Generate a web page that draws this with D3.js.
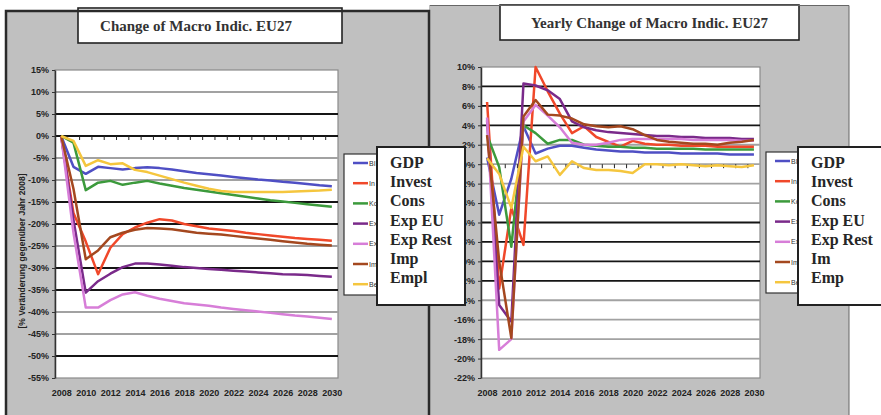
<!DOCTYPE html>
<html>
<head>
<meta charset="utf-8">
<script src="https://cdn.jsdelivr.net/npm/d3@7"></script>
<style>
  body { margin: 0; background: #fff; }
  svg { display: block; }
</style>
</head>
<body>
<svg id="chart" width="881" height="415"></svg>
<script>
// data
var years = [2008, 2009, 2010, 2011, 2012, 2013, 2014, 2015, 2016, 2017, 2018, 2019,
             2020, 2021, 2022, 2023, 2024, 2025, 2026, 2027, 2028, 2029, 2030]
var xLabels = [2008, 2010, 2012, 2014, 2016, 2018, 2020, 2022, 2024, 2026, 2028, 2030]
var leftTicks = [15, 10, 5, 0, -5, -10, -15, -20, -25, -30, -35, -40, -45, -50, -55]
var rightTicks = [10, 8, 6, 4, 2, 0, -2, -4, -6, -8, -10, -12, -14, -16, -18, -20, -22]

var germanNames = ['BIP', 'Investitionen', 'Konsum', 'Export EU', 'Export Rest', 'Import', 'Beschäftigung']
var leftNames = ['GDP', 'Invest', 'Cons', 'Exp EU', 'Exp Rest', 'Imp', 'Empl']
var rightNames = ['GDP', 'Invest', 'Cons', 'Exp EU', 'Exp Rest', 'Im', 'Emp']

// cumulative change vs 2008, %
var gdpCum     = [0, -7.0, -8.6, -7.0, -7.3, -7.6, -7.3, -7.1, -7.3, -7.6, -8.0, -8.4, -8.7, -9.0, -9.3, -9.6, -9.9, -10.1, -10.4, -10.6, -10.9, -11.2, -11.4]
var investCum  = [0, -17.5, -24.0, -31.4, -25.4, -22.3, -20.8, -19.7, -18.9, -19.2, -20.0, -20.5, -21.0, -21.3, -21.6, -22.0, -22.3, -22.6, -22.9, -23.2, -23.4, -23.6, -23.8]
var consCum    = [0, -1.5, -12.3, -10.6, -10.2, -11.1, -10.6, -10.2, -10.8, -11.3, -11.8, -12.2, -12.6, -13.0, -13.4, -13.8, -14.2, -14.6, -14.9, -15.2, -15.5, -15.8, -16.1]
var expEuCum   = [0, -19.0, -35.6, -33.0, -31.3, -29.8, -29.0, -29.0, -29.2, -29.5, -29.8, -30.0, -30.2, -30.4, -30.6, -30.8, -31.0, -31.2, -31.4, -31.5, -31.6, -31.8, -32.0]
var expRestCum = [0, -22.0, -39.0, -39.0, -37.3, -36.0, -35.5, -36.3, -37.0, -37.5, -38.0, -38.3, -38.6, -39.0, -39.3, -39.6, -39.9, -40.2, -40.5, -40.8, -41.0, -41.3, -41.6]
var impCum     = [0, -12.0, -28.0, -26.0, -23.0, -22.0, -21.3, -20.9, -21.0, -21.2, -21.6, -22.0, -22.2, -22.4, -22.7, -23.0, -23.3, -23.6, -23.9, -24.2, -24.5, -24.7, -24.9]
var emplCum    = [0, -1.1, -6.8, -5.5, -6.4, -6.2, -7.7, -8.2, -9.0, -9.8, -10.6, -11.3, -12.0, -12.5, -12.7, -12.7, -12.7, -12.7, -12.7, -12.6, -12.5, -12.4, -12.2]

// yearly change, %
var gdpYr     = [0.7, -5.2, -1.5, 3.9, 1.1, 1.6, 1.9, 1.9, 1.7, 1.5, 1.4, 1.3, 1.3, 1.2, 1.2, 1.2, 1.1, 1.1, 1.1, 1.1, 1.0, 1.0, 1.0]
var investYr  = [6.4, -12.8, -4.5, -8.3, 10.0, 7.5, 5.2, 3.2, 3.9, 2.8, 2.3, 1.8, 2.4, 2.1, 2.0, 2.0, 1.9, 1.9, 1.9, 1.8, 1.8, 1.8, 1.8]
var consYr    = [3.0, -0.3, -8.5, 4.0, 3.2, 2.1, 2.5, 2.5, 2.0, 1.9, 1.8, 1.8, 1.7, 1.7, 1.6, 1.6, 1.6, 1.6, 1.5, 1.5, 1.5, 1.5, 1.5]
var expEuYr   = [4.5, -14.5, -16.2, 8.3, 8.1, 7.6, 6.7, 4.4, 3.8, 3.5, 3.3, 3.2, 3.1, 3.0, 2.9, 2.9, 2.8, 2.8, 2.7, 2.7, 2.7, 2.6, 2.6]
var expRestYr = [4.8, -19.1, -18.0, 4.4, 6.1, 5.0, 3.8, 2.2, 2.0, 2.0, 2.2, 2.5, 2.6, 2.6, 2.6, 2.6, 2.6, 2.5, 2.5, 2.5, 2.5, 2.4, 2.4]
var impYr     = [3.0, -10.0, -17.9, 4.9, 6.6, 5.1, 5.0, 4.7, 4.1, 3.9, 3.8, 3.9, 3.6, 3.0, 2.5, 2.3, 2.2, 2.1, 2.1, 2.0, 2.2, 2.3, 2.5]
var emplYr    = [0.6, -1.0, -4.5, 1.8, 0.3, 0.8, -1.1, 0.3, -0.4, -0.6, -0.6, -0.7, -0.9, 0.0, 0.0, -0.1, 0.0, -0.1, -0.2, -0.1, -0.2, -0.3, -0.1]

var colors = ['#4f4fc4', '#f0482a', '#3c9a3c', '#7a2a8a', '#d77ed8', '#a4481f', '#f5c63e']

var svg = d3.select('#chart')
var narrow = '"Liberation Sans Narrow", "Arial Narrow", "Liberation Sans", sans-serif'
var serif = '"Liberation Serif", "Times New Roman", serif'

function drawPanel(p) {
  var g = svg.append('g')
  var pl = p.plot

  // grey frame
  g.append('rect')
    .attr('x', p.frame[0]).attr('y', p.frame[1])
    .attr('width', p.frame[2] - p.frame[0]).attr('height', p.frame[3] - p.frame[1])
    .attr('fill', '#c0c0c0')

  var x = d3.scalePoint().domain(years).range([pl.x0, pl.x1]).padding(0.5)
  var y = d3.scaleLinear().domain(p.domain).range([pl.y1, pl.y0])

  g.append('rect')
    .attr('x', pl.x0).attr('y', pl.y0)
    .attr('width', pl.x1 - pl.x0).attr('height', pl.y1 - pl.y0)
    .attr('fill', '#fff').attr('stroke', '#8a8a8a').attr('stroke-width', 1.2)

  // gridlines, some printed dark, some light
  g.selectAll('.grid')
    .data(p.ticks.filter(function(t){ return t !== p.domain[0] && t !== p.domain[1] }))
    .join('line')
      .attr('x1', pl.x0).attr('x2', pl.x1)
      .attr('y1', function(d){ return y(d) }).attr('y2', function(d){ return y(d) })
      .attr('stroke', function(d){ return p.dark.indexOf(d) >= 0 ? '#151515' : '#a2a2a2' })
      .attr('stroke-width', 1.8)

  // category ticks along the zero line
  var step = x.step()
  g.selectAll('.ctick')
    .data(years.slice(1))
    .join('line')
      .attr('x1', function(d){ return x(d) - step / 2 }).attr('x2', function(d){ return x(d) - step / 2 })
      .attr('y1', y(0)).attr('y2', y(0) + 4)
      .attr('stroke', '#222').attr('stroke-width', 1)

  var yAxis = g.append('g')
    .attr('transform', 'translate(' + pl.x0 + ',0)')
    .call(d3.axisLeft(y).tickValues(p.ticks).tickFormat(function(d){ return d + '%' }).tickSize(3).tickSizeOuter(0).tickPadding(3))
  yAxis.select('.domain').attr('stroke', '#333').attr('stroke-width', 1.5)
  yAxis.selectAll('line').attr('stroke', '#333')
  yAxis.selectAll('text').attr('font-family', narrow).attr('font-weight', 'bold').attr('font-size', 9).attr('fill', '#222')

  var xAxis = g.append('g')
    .attr('transform', 'translate(0,' + pl.y1 + ')')
    .call(d3.axisBottom(x).tickValues(xLabels).tickSize(0).tickPadding(12))
  xAxis.select('.domain').remove()
  xAxis.selectAll('text').attr('font-family', narrow).attr('font-weight', 'bold').attr('font-size', 9).attr('fill', '#222')

  var line = d3.line()
    .x(function(d, i){ return x(years[i]) })
    .y(function(d){ return y(d) })

  g.append('g').selectAll('path')
    .data(p.series)
    .join('path')
      .attr('d', function(d){ return line(d) })
      .attr('fill', 'none')
      .attr('stroke', function(d, i){ return colors[i] })
      .attr('stroke-width', 2.5)
      .attr('stroke-linejoin', 'round')

  // title box
  var t = p.title
  g.append('rect')
    .attr('x', t.x).attr('y', t.y).attr('width', t.w).attr('height', t.h)
    .attr('fill', '#fff').attr('stroke', '#222').attr('stroke-width', 1.6)
  g.append('text')
    .attr('x', t.x + t.w / 2 + t.dx).attr('y', t.y + t.h / 2 + 5)
    .attr('text-anchor', 'middle')
    .attr('font-family', serif).attr('font-weight', 'bold').attr('font-size', 15).attr('fill', '#333')
    .text(t.text)

  // original small legend; its labels are cut off by the pasted label box
  var lg = p.legend
  var lgG = g.append('g')
  lgG.append('rect')
    .attr('x', lg.x).attr('y', lg.y).attr('width', 70).attr('height', lg.h)
    .attr('fill', '#fff').attr('stroke', '#333').attr('stroke-width', 1.2)
  germanNames.forEach(function(name, i){
    var yy = lg.y + 9 + i * 20.2
    lgG.append('line')
      .attr('x1', lg.x + 9).attr('x2', lg.x + 24).attr('y1', yy).attr('y2', yy)
      .attr('stroke', colors[i]).attr('stroke-width', 2.5)
    lgG.append('text')
      .attr('x', lg.x + 25).attr('y', yy + 2.5)
      .attr('font-family', narrow).attr('font-size', 7).attr('fill', '#333')
      .text(name.slice(0, 2))
  })
}

function drawLabelBox(b, names) {
  var g = svg.append('g')
  g.append('rect')
    .attr('x', b.x).attr('y', b.y).attr('width', b.w).attr('height', b.h)
    .attr('fill', '#fff').attr('stroke', '#222').attr('stroke-width', 2)
  g.selectAll('text')
    .data(names)
    .join('text')
      .attr('x', b.x + 13)
      .attr('y', function(d, i){ return b.y + 21 + i * 19.2 })
      .attr('font-family', serif).attr('font-weight', 'bold').attr('font-size', 16).attr('fill', '#262626')
      .text(function(d){ return d })
}

drawPanel({
  frame: [5, 10, 429, 420],
  plot: {x0: 55, x1: 338, y0: 70, y1: 378},
  domain: [-55, 15],
  ticks: leftTicks,
  dark: [5, 0, -15, -20, -30, -35, -50],
  series: [gdpCum, investCum, consCum, expEuCum, expRestCum, impCum, emplCum],
  title: {x: 78, y: 8, w: 264, h: 35, dx: -14, text: 'Change of Macro Indic. EU27'},
  legend: {x: 344, y: 154, h: 141}
})

// y axis title of the left chart
svg.append('text')
  .attr('transform', 'translate(25,251) rotate(-90)')
  .attr('text-anchor', 'middle')
  .attr('font-family', narrow).attr('font-weight', 'bold').attr('font-size', 8.5).attr('fill', '#222')
  .text('[% Veränderung gegenüber Jahr 2008]')

drawPanel({
  frame: [429, 5, 849, 420],
  plot: {x0: 481, x1: 760, y0: 67, y1: 378},
  domain: [-22, 10],
  ticks: rightTicks,
  dark: [8, 6, 4, -6, -8, -10, -12],
  series: [gdpYr, investYr, consYr, expEuYr, expRestYr, impYr, emplYr],
  title: {x: 500, y: 5, w: 299, h: 35, dx: 0, text: 'Yearly Change of Macro Indic. EU27'},
  legend: {x: 766, y: 152, h: 141}
})

// frame edges
svg.append('path')
  .attr('d', 'M6,415V11H429V415')
  .attr('fill', 'none').attr('stroke', '#2a2a2a').attr('stroke-width', 2.5)
svg.append('path')
  .attr('d', 'M430,5.5H849V415')
  .attr('fill', 'none').attr('stroke', '#666').attr('stroke-width', 1)

drawLabelBox({x: 377, y: 147, w: 88, h: 158}, leftNames)
drawLabelBox({x: 798, y: 147, w: 95, h: 158}, rightNames)
</script>
</body>
</html>
